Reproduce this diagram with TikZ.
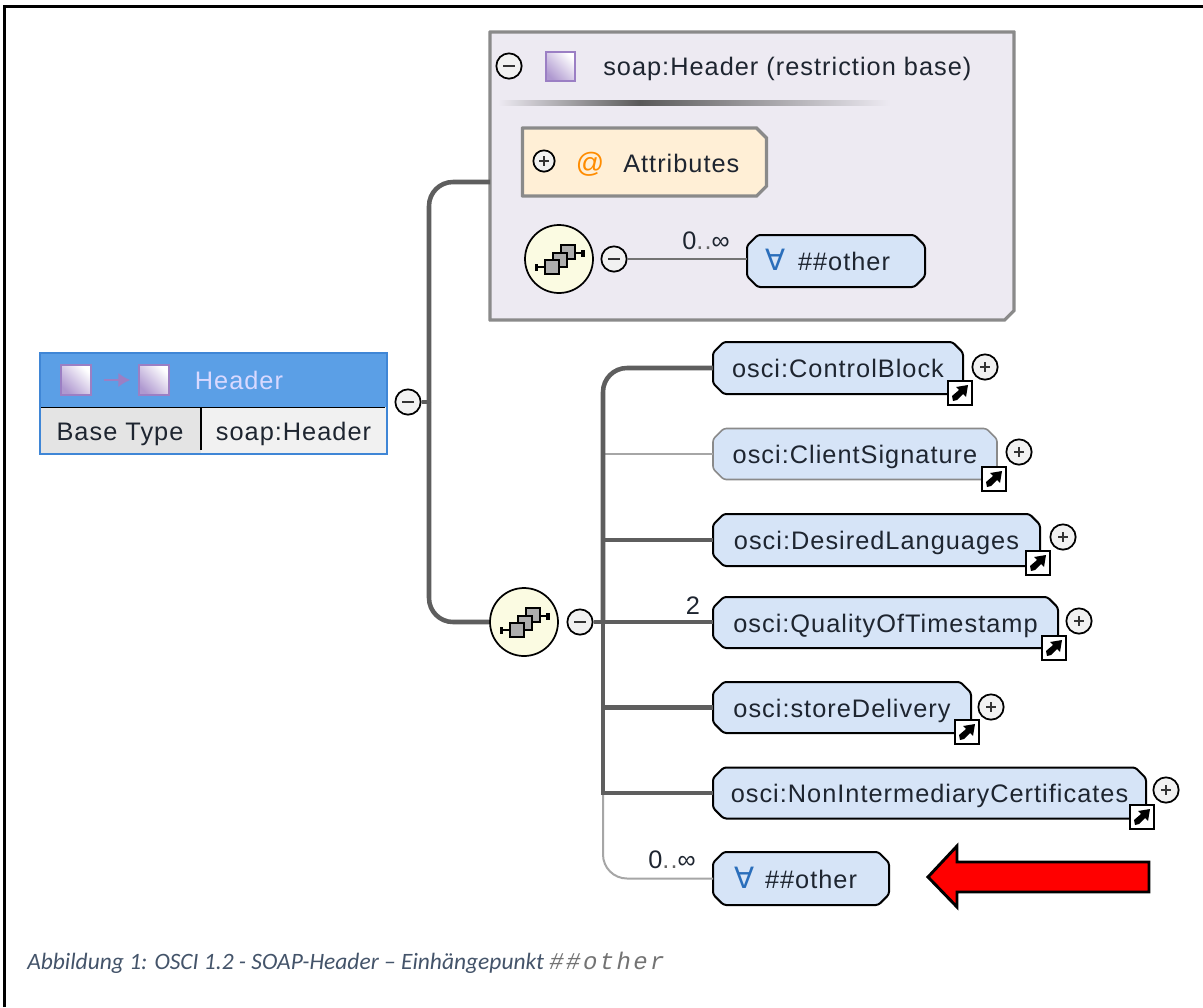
\documentclass[tikz,border=0pt]{standalone}
\usepackage{fontspec}
\usetikzlibrary{calc,arrows.meta}
\setmainfont{Liberation Sans}
\newfontfamily\dg[LetterSpace=4]{Liberation Sans}
\newfontfamily\allfont{DejaVu Sans}
\newfontfamily\capfont{Carlito}
\newfontfamily\capmono[LetterSpace=10]{Liberation Mono}
\definecolor{elemfill}{HTML}{D6E4F7}
\definecolor{connc}{HTML}{5E5E5E}
\definecolor{thinc}{HTML}{A6A6A6}
\definecolor{boxgray}{HTML}{8A8A8A}
\definecolor{purpb}{HTML}{9B7FC4}
\definecolor{txt}{HTML}{1E2530}
\definecolor{allblue}{HTML}{2A6EBB}
\definecolor{panel}{HTML}{EDEAF2}
\definecolor{attrfill}{HTML}{FFEFD6}
\definecolor{headblue}{HTML}{5B9FE6}
\definecolor{headline}{HTML}{3F86D6}
\definecolor{cellA}{HTML}{E4E4E4}
\definecolor{cellB}{HTML}{F1F1F1}
\definecolor{capc}{HTML}{44546A}
\definecolor{compfill}{HTML}{FBFBE2}
\newcommand{\ts}{\dg\fontsize{19}{22}\selectfont}
\newcommand{\allsign}{\textcolor{allblue}{\allfont\fontsize{22}{22}\selectfont ∀}}
\newdimen\octXa \newdimen\octYa \newdimen\octXb \newdimen\octYb
\def\chNW{8pt}\def\chNE{8pt}\def\chSE{8pt}\def\chSW{8pt}
\makeatletter
\pgfdeclareshape{octo}{
  \inheritsavedanchors[from=rectangle]
  \inheritanchorborder[from=rectangle]
  \inheritanchor[from=rectangle]{center}
  \inheritanchor[from=rectangle]{north}
  \inheritanchor[from=rectangle]{south}
  \inheritanchor[from=rectangle]{west}
  \inheritanchor[from=rectangle]{east}
  \backgroundpath{
    \southwest \octXa=\pgf@x \octYa=\pgf@y
    \northeast \octXb=\pgf@x \octYb=\pgf@y
    \pgfpathmoveto{\pgfqpoint{\dimexpr(\octXa+\octXb)/2\relax}{\octYa}}
    \pgfpathlineto{\pgfqpoint{\dimexpr\octXa+\chSW\relax}{\octYa}}
    \pgfpathlineto{\pgfqpoint{\octXa}{\dimexpr\octYa+\chSW\relax}}
    \pgfpathlineto{\pgfqpoint{\octXa}{\dimexpr\octYb-\chNW\relax}}
    \pgfpathlineto{\pgfqpoint{\dimexpr\octXa+\chNW\relax}{\octYb}}
    \pgfpathlineto{\pgfqpoint{\dimexpr\octXb-\chNE\relax}{\octYb}}
    \pgfpathlineto{\pgfqpoint{\octXb}{\dimexpr\octYb-\chNE\relax}}
    \pgfpathlineto{\pgfqpoint{\octXb}{\dimexpr\octYa+\chSE\relax}}
    \pgfpathlineto{\pgfqpoint{\dimexpr\octXb-\chSE\relax}{\octYa}}
    \pgfpathclose
  }
}
\makeatother
\tikzset{
  x=0.75pt,y=-0.75pt,
  chamf/.code args={#1/#2/#3/#4}{\def\chNW{#1}\def\chNE{#2}\def\chSE{#3}\def\chSW{#4}},
  elem/.style={shape=octo,outer sep=0pt,rounded corners=2pt,
    draw=black,line width=1.5pt,fill=elemfill,inner sep=0pt,text=txt,font=\ts,text height=18pt,text depth=3.4pt},
  optelem/.style={elem,draw=boxgray,line width=1.2pt},
  sz/.style 2 args={minimum width=#1*0.75pt,minimum height=#2*0.75pt},
  conn/.style={draw=connc,line width=3.4pt},
  thinconn/.style={draw=thinc,line width=1.5pt},
  pm/.style={circle,draw=black,line width=1.3pt,fill=cellB,minimum size=19pt,inner sep=0pt},
  minusc/.style={pm,path picture={\draw[line width=1.3pt,black!80] ($(path picture bounding box.center)+(-6,0)$)--($(path picture bounding box.center)+(6,0)$);}},
  plusc/.style={pm,path picture={\draw[line width=1pt,black!80] ($(path picture bounding box.center)+(-5,0)$)--($(path picture bounding box.center)+(5,0)$) ($(path picture bounding box.center)+(0,-5)$)--($(path picture bounding box.center)+(0,5)$);}},
  comp/.style={circle,draw=black,line width=1.3pt,fill=compfill,minimum size=51pt,inner sep=0pt},
  sq/.style={minimum size=22pt,inner sep=0pt,draw=purpb,line width=1.6pt,left color=white,right color=purpb!80,shading angle=-45},
  lbl/.style={inner sep=0pt,text=txt,font=\ts},
  linkbox/.style={draw=black,line width=1.4pt,fill=white,minimum size=17.5pt,inner sep=0pt},
  compicon/.pic={
    \draw[black,line width=1pt] (-22,8)--(-8,8) (16,-6)--(24,-6);
    \fill[black] (-24,4.5) rectangle (-21,11.5);
    \fill[black] (22,-9.5) rectangle (26,-2.5);
    \foreach \a/\b in {9/-7,1/1,-7/8}{\draw[black,line width=1pt,fill=black!32] (\a-7,\b-7) rectangle (\a+7,\b+7);}
  },
  linkpic/.pic={
    \fill[black] (-7,8)--(-8,3)--(-1,-3)--(-4,-6)--(8,-8)--(6,4)--(3,1)--(-3,7)--cycle;
  }
}
\begin{document}
\begin{tikzpicture}
\useasboundingbox (0,0) rectangle (1203,1007);
\fill[white] (0,0) rectangle (1203,1007);
\coordinate (fa) at (4.5,1007);
\coordinate (fb) at (4.5,6.5);
\coordinate (fc) at (1203,6.5);
\draw[black,line width=1.6pt] (fa)--(fb)--(fc);

% restriction base box
\node[shape=octo,outer sep=0pt,chamf=0.01pt/0.01pt/7pt/0.01pt,
  draw=boxgray,line width=2.4pt,fill=panel,minimum width=393pt,minimum height=216pt,inner sep=0pt] (base) at (752,176) {};
\shade[left color=panel,right color=black!65,draw=none] (498,100.5) rectangle (640,105.5);
\shade[left color=black!65,right color=panel,draw=none] (640,100.5) rectangle (890,105.5);
\node[minusc] (mb) at (509,66) {};
\node[sq] (sqb) at (560.5,66.5) {};
\node[lbl,anchor=base west] (tb) at (603,75) {soap:Header (restriction base)};
\node[shape=octo,outer sep=0pt,chamf=0.01pt/7.5pt/7.5pt/0.01pt,
  draw=boxgray,line width=2.4pt,fill=attrfill,minimum width=183pt,minimum height=51pt,inner sep=0pt] (attr) at (644.5,162) {};
\node[plusc,minimum size=16pt] (pa) at (544,161) {};
\node[lbl,anchor=base,text=orange!90!yellow] (at) at (590,172) {\fontsize{21}{22}\selectfont @};
\node[lbl,anchor=base west] (ta) at (623,172) {Attributes};
\node[comp] (c1) at (559,259) {};
\pic at (559,259) {compicon};
\node[minusc] (m3) at (614,259) {};
\node[elem,sz={178}{52}] (oa) at (836,261) {\allsign\kern9pt\#\#other\kern12pt};
\draw[draw=black!55,line width=1.1pt] (m3.east)--(m3.east -| oa.west);
\node[lbl,anchor=base] (l1) at (706,249) {0\textcolor{black!60}{..}∞};

% root type box
\fill[headblue] (40,353) rectangle (387,407);
\fill[cellA] (41,407) rectangle (201,453);
\fill[cellB] (201,407) rectangle (386,453);
\draw[headline,line width=1.3pt] (40,353) rectangle (387,454);
\draw[black,line width=1.3pt] (41,407.5)--(385,407.5);
\draw[black,line width=1.3pt] (201,407)--(201,450);
\node[sq] (s1) at (76,380) {};
\node[sq] (s2) at (154,380) {};
\draw[purpb,line width=1.8pt,-{Latex[length=9pt,width=11pt]}] ($(s1.east)+(12,0)$) -- ($(s2.west)+(-8,0)$);
\node[lbl,anchor=base,text=white!85!blue] (th) at (239,389) {Header};
\node[lbl,anchor=base] (tbt) at (120,440) {Base Type};
\node[lbl,anchor=base] (tsh) at (293.5,440) {soap:Header};

% connectors, left part
\node[minusc] (m1) at (408,402) {};
\node[comp] (c2) at (524,622) {};
\pic at (524,622) {compicon};
\node[minusc] (m2) at (580,622) {};
\coordinate (t1) at (429,402);
\coordinate (bj) at (490,182);
\coordinate (t2) at (603,622);
\draw[conn,rounded corners=18pt] (bj) -| (t1);
\draw[conn,rounded corners=18pt] (c2.west) -| (t1);
\draw[conn] (m1.east) -- (t1);

% particles
\node[elem,sz={250}{52}] (e1) at (838,368) {osci:ControlBlock};
\node[optelem,sz={284}{51}] (e2) at (855,454) {osci:ClientSignature};
\node[elem,sz={327}{52}] (e3) at (876.5,540) {osci:DesiredLanguages};
\node[elem,sz={345}{51}] (e4) at (885.5,622.5) {osci:QualityOfTimestamp};
\node[elem,sz={258}{51}] (e5) at (842,707.5) {osci:storeDelivery};
\node[elem,sz={433}{51}] (e6) at (929.5,793) {osci:NonIntermediaryCertificates};
\node[elem,sz={176}{53}] (e7) at (801,878.5) {\allsign\kern8pt\#\#other\kern8pt};

\coordinate (tb6) at (603,793);
\draw[thinconn,rounded corners=18pt] (tb6) |- (e7.west);
\draw[thinconn] (t2 |- e2.west) -- (e2.west);
\draw[conn,rounded corners=18pt] (e1.west) -| (t2);
\draw[conn] (t2) -- (tb6) -- (e6.west);
\draw[conn] (m2.east) -- (m2.east -| e4.west);
\draw[conn] (t2 |- e3.west) -- (e3.west);
\draw[conn] (t2 |- e5.west) -- (e5.west);
\node[lbl,anchor=base] (n2) at (693,614) {2};
\node[lbl,anchor=base] (l2) at (672,868) {0\textcolor{black!60}{..}∞};

\foreach \n/\xa/\ya/\xb/\yb in {e1/985/367/960/393, e2/1019/452/994/479, e3/1063/537/1038/563, e4/1079/621/1054/648, e5/991/707/967/732, e6/1166/790/1142/817}{
  \node[plusc] (p\n) at (\xa,\ya) {};
  \node[linkbox] (lk\n) at (\xb,\yb) {};
  \pic at (\xb,\yb) {linkpic};
}

% red arrow
\draw[black,line width=2.2pt,fill=red,miter limit=10] (928,877)--(957,846)--(957,862)--(1149,862)--(1149,892)--(957,892)--(957,907)--cycle;

% caption
\node[anchor=base west,inner sep=0pt,text=capc,font=\capfont\itshape\fontsize{17.6}{20}\selectfont] (cap) at (27,969)
  {Abbildung 1: OSCI 1.2 - SOAP-Header – Einhängepunkt {\capmono\fontsize{18}{20}\selectfont\color{black!55}\#\#other}};
\end{tikzpicture}
\end{document}
